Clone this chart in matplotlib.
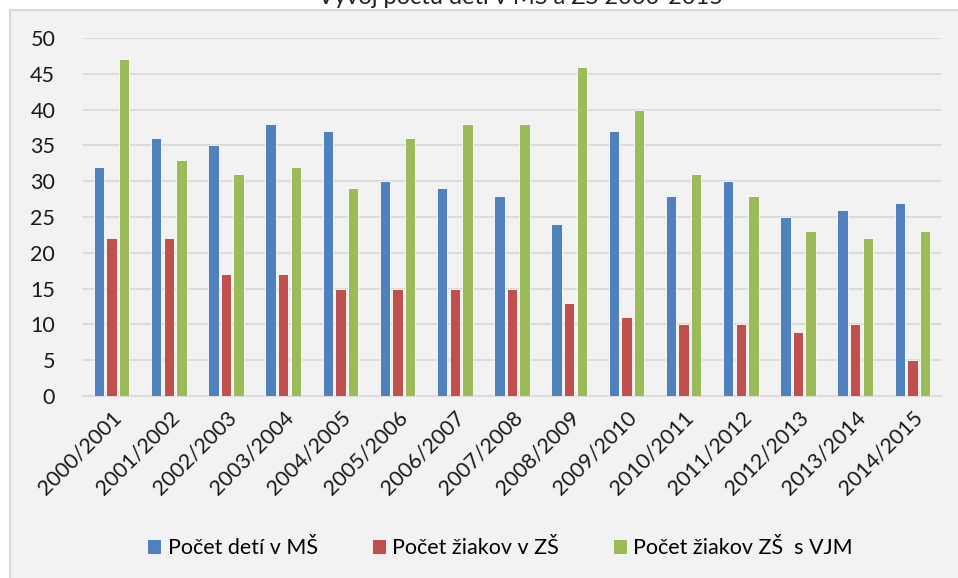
import numpy as np
import matplotlib
matplotlib.use("Agg")
import matplotlib.pyplot as plt
from matplotlib.patches import Rectangle

years = ["2000/2001", "2001/2002", "2002/2003", "2003/2004", "2004/2005",
         "2005/2006", "2006/2007", "2007/2008", "2008/2009", "2009/2010",
         "2010/2011", "2011/2012", "2012/2013", "2013/2014", "2014/2015"]
ms = [32, 36, 35, 38, 37, 30, 29, 28, 24, 37, 28, 30, 25, 26, 27]
zs = [22, 22, 17, 17, 15, 15, 15, 15, 13, 11, 10, 10, 9, 10, 5]
vjm = [47, 33, 31, 32, 29, 36, 38, 38, 46, 40, 31, 28, 23, 22, 23]
labels = ["Počet detí v MŠ", "Počet žiakov v ZŠ", "Počet žiakov ZŠ  s VJM"]
colors = ["#4f81bd", "#c0504d", "#9bbb59"]
title = "Vývoj počtu detí v MŠ a ZŠ 2000-2015"

plt.rcParams['font.family'] = ['Lato', 'DejaVu Sans']

W, H = 958, 578
fig = plt.figure(figsize=(W/100, H/100), dpi=100)
fig.patch.set_facecolor("white")
# chart frame
fig.patches.append(Rectangle((10/W, -0.05), 1.0, (H-10)/H + 0.05,
                             transform=fig.transFigure, facecolor="#f2f2f2",
                             edgecolor="#d9d9d9", lw=1.5, zorder=-10))
fig.text(520/W, 1 - 4/H, title, ha='center', va='baseline', fontsize=17, color="#222222")

ax = fig.add_axes([83/W, 1 - 396/H, (941-83)/W, (396-38)/H])
ax.patch.set_alpha(0)

x = np.arange(len(years))
w = 0.18
off = 0.22
for i, (vals, c, lab) in enumerate(zip([ms, zs, vjm], colors, labels)):
    ax.bar(x + (i-1)*off, vals, width=w, color=c, label=lab,
           edgecolor="white", linewidth=0.6, zorder=3)

ax.set_xlim(-0.5, len(years)-0.5)
ax.set_ylim(0, 50)
ax.set_yticks(range(0, 51, 5))
ax.yaxis.grid(True, color="#d9d9d9", lw=1.3, zorder=0)
ax.set_axisbelow(True)
for s in ["top", "right", "left"]:
    ax.spines[s].set_visible(False)
ax.spines["bottom"].set_color("#d9d9d9")
ax.spines["bottom"].set_linewidth(1.3)
ax.tick_params(axis='both', length=0, labelsize=15.5, colors="#1a1a1a")
ax.tick_params(axis='y', pad=20)
ax.set_xticks(x)
ax.set_xticklabels(years, rotation=45, ha='right', va='top', rotation_mode='anchor')
ax.tick_params(axis='x', pad=8)

ax.legend(loc='center', bbox_to_anchor=(500/W, 1 - 548/H), bbox_transform=fig.transFigure,
          ncol=3, frameon=False, fontsize=15.5, handlelength=0.65, handleheight=0.65,
          handletextpad=0.3, columnspacing=2.5)

fig.savefig("out.png", dpi=100, facecolor=fig.get_facecolor())
